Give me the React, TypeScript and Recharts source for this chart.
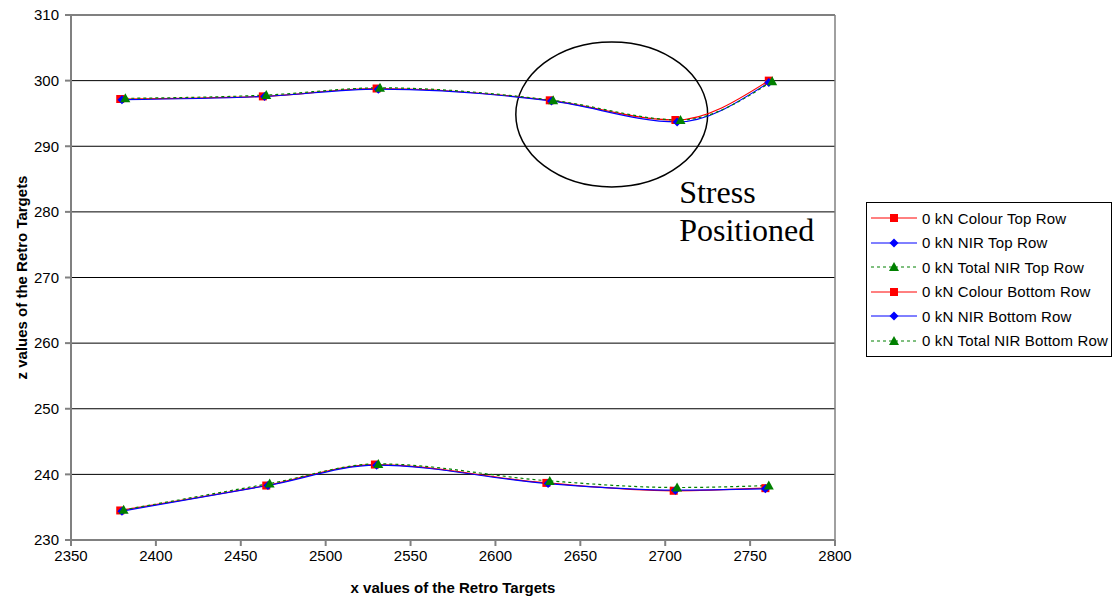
import React from 'react'
import {
  LineChart,
  Line,
  XAxis,
  YAxis,
  CartesianGrid,
  Legend,
  ReferenceArea,
  ReferenceDot,
  ReferenceLine,
} from 'recharts'

// Top row of retro targets (x, z per instrument)
const colourTopX = [2379, 2463, 2530, 2632, 2706, 2761]
const colourTopZ = [297.2, 297.6, 298.8, 297.0, 294.0, 300.0]
const nirTopX = [2380, 2464, 2531, 2633, 2707, 2761]
const nirTopZ = [297.1, 297.6, 298.7, 296.9, 293.7, 299.7]
const totalTopX = [2382, 2465, 2532, 2634, 2709, 2763]
const totalTopZ = [297.3, 297.8, 298.9, 297.0, 294.0, 299.9]

// Bottom row of retro targets
const colourBottomX = [2379, 2465, 2529, 2630, 2705, 2759]
const colourBottomZ = [234.5, 238.3, 241.5, 238.7, 237.5, 237.9]
const nirBottomX = [2380, 2466, 2530, 2631, 2706, 2759]
const nirBottomZ = [234.4, 238.3, 241.4, 238.6, 237.6, 237.8]
const totalBottomX = [2381, 2467, 2531, 2632, 2707, 2761]
const totalBottomZ = [234.6, 238.6, 241.6, 239.0, 238.0, 238.3]

const xTicks = [2350, 2400, 2450, 2500, 2550, 2600, 2650, 2700, 2750, 2800]
const yTicks = [230, 240, 250, 260, 270, 280, 290, 300, 310]

const toPoints = (xs: number[], zs: number[]) => xs.map((x, i) => ({ x, z: zs[i] }))

type Marker = 'square' | 'diamond' | 'triangle'

const series = [
  { name: '0 kN Colour Top Row', data: toPoints(colourTopX, colourTopZ), color: '#FF0000', marker: 'square' as Marker, dashed: false },
  { name: '0 kN NIR Top Row', data: toPoints(nirTopX, nirTopZ), color: '#0000FF', marker: 'diamond' as Marker, dashed: false },
  { name: '0 kN Total NIR Top Row', data: toPoints(totalTopX, totalTopZ), color: '#008000', marker: 'triangle' as Marker, dashed: true },
  { name: '0 kN Colour Bottom Row', data: toPoints(colourBottomX, colourBottomZ), color: '#FF0000', marker: 'square' as Marker, dashed: false },
  { name: '0 kN NIR Bottom Row', data: toPoints(nirBottomX, nirBottomZ), color: '#0000FF', marker: 'diamond' as Marker, dashed: false },
  { name: '0 kN Total NIR Bottom Row', data: toPoints(totalBottomX, totalBottomZ), color: '#008000', marker: 'triangle' as Marker, dashed: true },
]

const FONT = 'Arial, "Liberation Sans", sans-serif'

const markerShape = (marker: Marker, cx: number, cy: number, color: string, key?: any) => {
  if (marker === 'square') {
    return <rect key={key} x={cx - 4} y={cy - 4} width={8} height={8} fill={color} />
  }
  if (marker === 'diamond') {
    return <path key={key} d={`M${cx},${cy - 4.5}L${cx + 4.5},${cy}L${cx},${cy + 4.5}L${cx - 4.5},${cy}Z`} fill={color} />
  }
  return <path key={key} d={`M${cx},${cy - 5}L${cx + 5},${cy + 4}L${cx - 5},${cy + 4}Z`} fill={color} />
}

const LegendBox = () => (
  <div
    style={{
      width: 246,
      boxSizing: 'border-box',
      border: '1px solid #000',
      background: '#fff',
      padding: '3px 0 3px 4px',
      fontFamily: FONT,
      fontSize: 15,
      color: '#000',
    }}
  >
    {series.map((s) => (
      <div key={s.name} style={{ display: 'flex', alignItems: 'center', height: 24.5 }}>
        <svg width={46} height={14} style={{ marginRight: 5 }}>
          <line x1={0} y1={7} x2={46} y2={7} stroke={s.color} strokeWidth={1} strokeDasharray={s.dashed ? '3 3' : undefined} />
          {markerShape(s.marker, 23, 7, s.color)}
        </svg>
        <span style={{ whiteSpace: 'nowrap', letterSpacing: 0.15 }}>{s.name}</span>
      </div>
    ))}
  </div>
)

export default function App() {
  return (
    <div style={{ position: 'absolute', left: 0, top: 0, background: '#fff' }}>
      <LineChart
        width={1118}
        height={601}
        margin={{ top: 15, right: 37, bottom: 0, left: 0 }}
        style={{ fontFamily: FONT }}
      >
        <CartesianGrid vertical={false} stroke="#000" strokeWidth={1} />
        <XAxis
          dataKey="x"
          type="number"
          domain={[2350, 2800]}
          ticks={xTicks}
          allowDuplicatedCategory={false}
          height={61}
          tickSize={6}
          tickMargin={4}
          stroke="#808080"
          strokeWidth={2}
          tick={{ fontSize: 15, fill: '#000' }}
          label={({ viewBox }: any) => (
            <text
              x={viewBox.x + viewBox.width / 2}
              y={viewBox.y + 53}
              textAnchor="middle"
              fontSize={15}
              fontWeight="bold"
              fill="#000"
            >
              x values of the Retro Targets
            </text>
          )}
        />
        <YAxis
          type="number"
          domain={[230, 310]}
          ticks={yTicks}
          width={71}
          tickSize={6}
          tickMargin={6}
          stroke="#808080"
          strokeWidth={2}
          tick={{ fontSize: 15, fill: '#000' }}
          label={({ viewBox }: any) => {
            const cy = viewBox.y + viewBox.height / 2
            return (
              <text
                x={21}
                y={cy}
                transform={`rotate(-90, 21, ${cy})`}
                textAnchor="middle"
                dominantBaseline="central"
                fontSize={15}
                fontWeight="bold"
                fill="#000"
              >
                z values of the Retro Targets
              </text>
            )
          }}
        />
        <ReferenceLine y={310} stroke="#808080" strokeWidth={1.5} />
        <ReferenceLine x={2800} stroke="#808080" strokeWidth={1.5} />
        <Legend
          layout="vertical"
          align="right"
          verticalAlign="top"
          wrapperStyle={{ top: 202, right: 6, width: 246 }}
          content={() => <LegendBox />}
        />
        {series.map((s) => (
          <Line
            key={s.name}
            name={s.name}
            data={s.data}
            dataKey="z"
            type="monotone"
            stroke={s.color}
            strokeWidth={1.2}
            strokeDasharray={s.dashed ? '3 3' : undefined}
            dot={(p: any) => markerShape(s.marker, p.cx, p.cy, s.color, `${s.name}-${p.index}`)}
            activeDot={false}
            isAnimationActive={false}
          />
        ))}
        {/* annotation: ellipse round the dip of the top row */}
        <ReferenceArea
          x1={2612}
          x2={2725}
          y1={283.8}
          y2={305.9}
          ifOverflow="visible"
          shape={(p: any) => (
            <ellipse
              cx={p.x + p.width / 2}
              cy={p.y + p.height / 2}
              rx={p.width / 2}
              ry={p.height / 2}
              fill="none"
              stroke="#000"
              strokeWidth={1.5}
            />
          )}
        />
        <ReferenceDot
          x={2708.2}
          y={281.3}
          ifOverflow="visible"
          shape={(p: any) => (
            <text x={p.cx} y={p.cy} fontFamily='"Times New Roman", "Liberation Serif", serif' fontSize={32} fill="#000">
              <tspan x={p.cx} dy={0}>Stress</tspan>
              <tspan x={p.cx} dy={38}>Positioned</tspan>
            </text>
          )}
        />
      </LineChart>
    </div>
  )
}
